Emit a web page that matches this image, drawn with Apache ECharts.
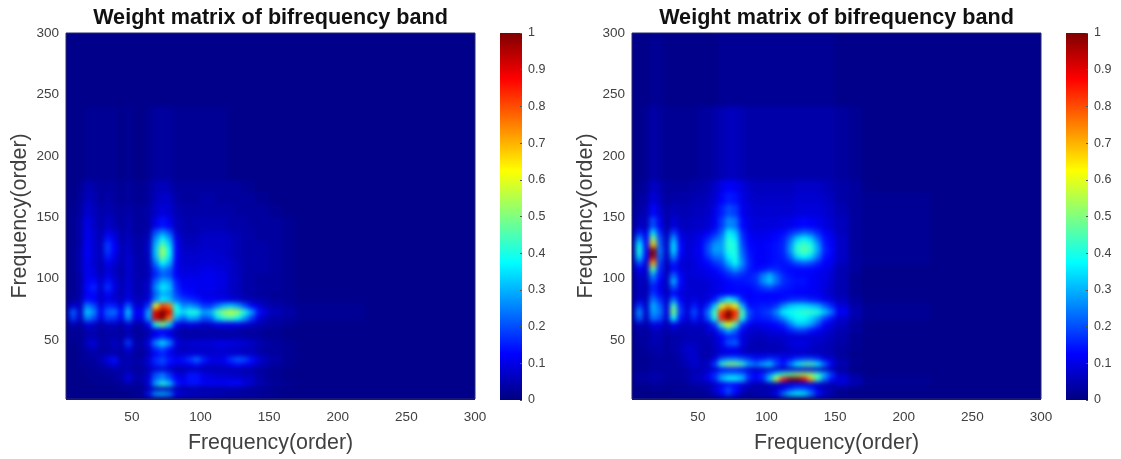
<!DOCTYPE html>
<html><head><meta charset="utf-8">
<style>
html,body{margin:0;padding:0;background:#fff}
#chart{width:1121px;height:459px;background:#fff}
#chart canvas[data-zr-dom-id="zr_0"]{filter:blur(2.5px);clip-path:path('M66 33H475V400H66Z M632 33H1041V400H632Z')}
</style>
<script src="https://cdn.jsdelivr.net/npm/echarts@6/dist/echarts.min.js"></script>
</head><body><div id="chart"></div>
<script>
const titleText = 'Weight matrix of bifrequency band';
const axisName = 'Frequency(order)';
const tickValues = [50,100,150,200,250,300];
const jet = ['#000080','#0000ff','#0080ff','#00ffff','#80ff80','#ffff00','#ff8000','#ff0000','#800000'];
const colEdges = [0,5,10,15,20,25,30,35,40,45,50,55,60,65,70,75,80,85,90,95,100,105,110,115,120,125,130,135,140,145,150,160,170,220,300];
const rowEdges = [300,240,180,170,160,150,140,135,130,125,120,115,110,105,100,95,90,85,80,75,70,65,60,55,50,45,40,36,32,28,24,20,16,12,8,4,0];
// weights in hundredths, rows from the top of the plot down
const leftWeights = [
[1,1,1,1,1,1,1,1,1,1,1,1,1,1,1,1,1,1,1,1,1,1,1,1,1,1,1,1,1,1,1,1,1,1],
[1,1,1,2,2,2,2,2,1,2,1,1,2,3,3,3,2,2,2,2,2,2,2,2,1,1,1,1,1,1,1,1,1,1],
[1,1,2,5,4,3,3,3,2,3,2,2,3,5,6,5,3,3,3,3,3,3,3,3,3,3,2,2,1,1,1,1,1,1],
[1,1,3,6,5,3,4,3,2,3,2,2,3,6,7,7,4,3,3,3,4,4,3,3,3,3,3,3,2,2,1,1,1,1],
[1,2,3,8,6,4,5,4,3,4,3,3,4,7,9,8,5,4,4,4,4,4,4,4,4,3,3,3,3,3,2,1,1,1],
[1,2,4,10,7,4,7,5,3,5,3,3,4,10,14,11,6,5,4,5,5,5,5,5,4,4,4,3,3,3,3,2,1,1],
[1,2,4,11,8,5,10,8,4,6,3,3,5,20,26,20,8,5,5,5,6,6,6,6,5,5,4,4,3,3,3,2,1,1],
[1,2,4,11,8,5,14,10,4,6,4,4,6,26,36,28,10,6,5,6,7,7,7,7,6,5,4,4,3,3,3,2,1,1],
[1,2,4,12,8,6,18,12,5,7,4,4,7,30,46,34,12,6,6,6,7,7,7,7,6,5,4,4,4,4,3,2,1,1],
[1,2,5,12,8,6,18,12,5,7,4,4,7,32,54,38,12,7,7,7,8,8,7,7,6,5,4,4,4,4,3,2,1,1],
[1,2,5,12,8,6,15,10,5,8,5,4,7,30,50,36,12,8,8,8,8,8,8,8,6,5,4,4,4,4,3,2,1,1],
[1,2,5,11,8,5,11,8,5,8,5,4,6,24,38,30,11,8,8,8,9,9,8,8,7,6,4,4,4,4,3,2,1,1],
[1,2,5,11,9,5,9,7,4,8,5,4,6,18,26,22,11,9,9,9,10,10,9,9,7,6,4,4,4,4,3,2,1,1],
[1,2,4,11,10,6,10,7,4,8,5,4,6,16,22,20,12,10,10,10,11,11,10,10,7,6,4,4,3,3,3,2,1,1],
[1,2,4,12,13,7,14,9,5,8,5,5,7,22,30,28,15,11,11,11,11,11,10,10,7,6,4,4,3,3,3,2,1,1],
[1,2,4,13,16,8,17,10,5,9,5,5,8,26,36,32,17,12,12,11,11,11,10,9,7,6,4,4,3,3,3,2,1,1],
[1,2,4,12,13,7,13,8,5,9,5,5,7,22,30,28,19,14,13,11,10,10,9,9,7,6,4,4,3,3,2,2,1,1],
[1,3,5,14,12,7,10,8,6,11,6,6,10,26,36,32,23,19,17,15,12,11,11,10,9,8,6,5,4,4,3,2,1,1],
[2,9,6,25,20,9,16,15,9,22,9,8,18,60,82,76,38,26,28,24,18,18,24,30,32,28,20,13,9,6,4,3,2,1],
[3,22,7,32,26,12,22,24,12,32,12,12,30,90,100,90,40,34,40,40,28,30,44,52,56,52,40,28,14,9,6,4,2,1],
[3,18,6,25,20,9,18,17,10,26,10,10,28,92,100,76,30,22,30,28,20,22,34,42,44,38,28,18,9,6,4,3,2,1],
[1,5,3,8,7,4,6,6,4,8,4,4,12,40,50,34,12,8,10,9,7,8,10,11,11,10,8,7,5,4,3,2,1,1],
[1,3,2,5,5,3,4,4,3,5,3,3,5,10,12,9,5,4,4,4,4,4,4,4,4,4,3,3,3,2,2,1,1,1],
[1,2,2,4,5,3,4,4,3,7,3,3,6,12,16,12,6,4,4,4,4,4,4,4,4,4,4,3,3,2,2,1,1,1],
[1,2,2,7,9,4,4,7,4,18,5,4,10,26,34,26,10,7,8,9,9,9,10,10,10,9,8,7,5,4,3,2,1,1],
[1,1,2,4,6,3,3,5,4,9,4,3,7,16,20,14,7,6,7,7,7,7,8,8,7,7,6,6,4,3,3,2,1,1],
[1,1,2,3,4,4,5,5,3,5,3,3,6,12,15,11,8,8,9,9,8,8,8,8,8,8,7,7,5,4,3,2,1,1],
[1,1,2,3,3,5,10,14,5,5,4,4,9,17,20,15,12,14,18,24,16,11,10,12,18,22,20,14,9,6,4,2,1,1],
[1,1,2,2,3,4,7,10,5,5,4,4,8,15,18,13,10,10,12,14,10,8,8,9,12,14,12,10,7,5,3,2,1,1],
[1,1,1,2,2,3,3,4,4,4,3,3,5,8,8,6,4,4,5,5,5,5,5,5,5,5,4,4,3,3,2,1,1,1],
[1,1,1,2,2,2,3,3,4,8,4,4,8,20,24,17,10,9,14,14,10,9,8,8,7,7,6,6,4,3,2,1,1,1],
[1,1,1,1,2,2,2,3,4,10,4,4,8,22,26,20,12,10,14,14,10,9,9,9,9,9,7,7,4,3,2,1,1,1],
[1,1,1,1,1,2,2,2,3,4,3,3,10,30,42,34,16,12,14,14,12,12,12,12,13,13,10,8,5,4,3,2,1,1],
[1,1,1,1,1,1,1,1,2,2,2,2,4,5,5,5,4,3,3,3,3,3,3,3,3,3,2,2,2,2,1,1,1,1],
[1,1,1,1,1,1,1,1,1,1,2,3,14,28,30,26,12,9,8,8,7,7,6,6,5,5,4,4,3,3,2,1,1,1],
[1,1,1,1,1,1,1,1,1,1,1,1,1,2,2,2,1,1,1,1,1,1,1,1,1,1,1,1,1,1,1,1,1,1]
];
const rightWeights = [
[1,1,1,2,2,1,1,1,1,1,1,1,1,2,2,2,2,2,2,2,2,2,2,2,2,2,2,2,2,2,1,1,1,1],
[1,1,2,4,3,2,2,2,2,2,3,3,4,5,6,6,5,4,4,4,4,4,4,4,4,4,4,4,4,4,3,2,1,1],
[1,2,3,7,5,3,3,3,3,4,4,5,7,10,12,11,9,7,6,6,6,6,6,6,7,7,7,7,6,5,4,3,1,1],
[1,3,4,9,6,3,4,4,4,5,5,6,8,12,15,14,10,8,7,7,7,7,7,7,8,8,8,8,7,6,4,3,2,1],
[2,4,5,13,8,4,6,5,5,6,6,7,10,15,20,18,11,9,8,8,8,8,8,8,9,9,9,9,8,7,5,3,2,1],
[2,6,6,20,11,4,9,6,6,7,7,8,11,18,26,24,13,10,9,9,9,9,10,10,12,13,12,11,9,8,6,3,2,1],
[2,15,9,34,16,5,18,9,7,8,9,11,15,22,36,32,16,11,10,10,11,12,13,16,19,22,20,16,12,10,6,3,2,1],
[3,26,12,50,20,6,28,11,8,9,11,15,21,26,40,36,18,12,11,11,12,13,15,22,32,36,32,22,14,11,7,3,2,1],
[3,36,13,68,22,7,34,13,8,9,12,19,27,28,42,40,20,13,12,12,13,14,16,26,40,44,40,28,15,12,7,3,2,1],
[3,40,14,100,24,7,34,13,8,10,12,20,28,28,40,40,22,14,12,12,13,14,16,27,42,46,42,29,16,13,7,3,2,1],
[3,34,12,96,22,6,26,11,8,10,11,17,23,24,36,40,24,15,12,12,13,14,15,22,34,38,34,24,14,12,7,3,2,1],
[3,20,9,72,18,6,16,9,8,9,11,13,17,20,30,38,26,16,12,12,13,14,14,16,20,22,20,16,12,11,6,3,2,1],
[2,12,7,46,16,5,13,9,8,9,10,11,13,16,22,28,22,15,13,14,16,16,14,13,13,13,13,12,11,9,5,3,1,1],
[2,8,6,28,14,6,22,12,8,9,9,10,11,13,16,18,16,15,17,24,30,22,16,14,13,13,12,11,10,8,5,2,1,1],
[2,7,5,20,12,6,30,13,8,8,8,9,10,11,13,14,14,15,17,26,32,24,17,15,14,14,12,11,10,8,5,2,1,1],
[2,6,5,15,10,6,20,11,8,8,8,8,10,11,12,13,13,13,15,18,20,17,15,14,13,13,12,11,9,7,5,2,1,1],
[2,6,5,18,12,6,13,9,8,8,8,9,10,11,13,13,13,12,13,13,13,13,13,13,12,12,11,11,9,7,5,2,1,1],
[2,8,6,24,17,7,24,12,8,10,8,9,15,28,40,32,16,12,13,13,13,13,14,16,17,17,15,14,11,9,6,3,1,1],
[3,18,7,30,22,9,44,16,8,15,9,16,32,58,72,60,30,14,14,15,15,18,26,32,34,34,32,29,22,16,9,4,2,1],
[3,26,7,28,24,9,50,18,9,20,10,24,45,82,100,84,45,20,15,17,19,26,36,38,40,42,42,40,32,24,12,5,2,1],
[3,22,6,24,20,8,38,14,8,16,9,20,40,85,100,80,40,18,14,15,16,20,26,34,38,38,34,28,19,14,8,4,2,1],
[2,6,4,10,9,5,11,7,6,7,7,9,18,44,62,44,18,11,10,11,12,13,16,24,32,32,28,20,12,9,6,3,1,1],
[1,4,3,6,6,4,6,5,5,6,5,8,10,20,30,22,11,8,7,8,9,10,11,15,18,18,14,11,9,7,5,3,1,1],
[1,3,3,5,5,3,4,4,5,5,5,5,7,12,16,16,9,7,6,6,7,7,7,8,8,8,8,8,7,6,4,2,1,1],
[1,3,3,5,5,3,4,5,6,6,5,5,7,11,20,22,10,6,5,5,6,6,7,9,10,10,8,7,6,5,4,2,1,1],
[1,2,3,4,4,3,4,5,8,7,5,4,6,9,11,11,7,5,5,5,5,5,6,7,8,8,7,6,6,5,3,2,1,1],
[1,2,2,3,4,3,3,5,7,8,5,4,6,9,10,11,10,8,8,8,8,8,8,8,8,8,7,7,5,5,3,1,1,1],
[1,2,2,3,3,3,3,4,6,8,5,5,10,22,26,26,22,18,14,15,18,16,12,14,18,20,20,17,11,8,4,2,1,1],
[1,2,2,3,3,3,3,4,6,8,6,7,18,42,50,50,44,28,24,30,34,20,14,26,38,44,46,38,24,12,5,2,1,1],
[1,2,2,3,3,3,3,3,4,5,5,6,8,12,14,14,12,8,7,7,8,8,7,7,8,8,8,7,6,5,3,1,1,1],
[1,3,3,4,4,3,3,3,4,6,6,10,16,24,26,26,24,16,12,16,24,34,42,46,50,52,50,42,30,18,7,3,1,1],
[1,4,3,5,4,3,3,3,4,6,7,10,16,30,38,38,32,16,12,16,34,60,85,100,100,90,70,44,24,14,9,5,2,1],
[1,2,2,3,3,2,2,2,3,4,4,5,7,10,12,12,9,6,5,5,6,7,8,9,10,10,9,7,6,5,8,5,2,1],
[1,1,1,2,2,2,2,2,2,3,3,4,8,14,20,14,8,5,4,4,5,6,10,16,20,20,16,10,5,4,2,1,1,1],
[1,1,1,1,1,1,1,2,2,2,2,3,6,12,18,12,5,3,5,5,6,12,24,34,38,36,26,14,8,5,2,1,1,1],
[1,1,1,1,1,1,1,1,1,1,1,1,1,1,1,1,1,1,1,1,1,1,1,1,1,1,1,1,1,1,1,1,1,1]
];

function cells(rows){
  const out=[];
  rows.forEach((row,r)=>row.forEach((v,c)=>{
    out.push([colEdges[c],rowEdges[r+1],colEdges[c+1],rowEdges[r],v/100]);
  }));
  return out;
}
function renderCell(params,api){
  const a=api.coord([api.value(0),api.value(3)]);
  const b=api.coord([api.value(2),api.value(1)]);
  return {type:'rect',shape:{x:a[0]-0.3,y:a[1]-0.3,width:b[0]-a[0]+0.6,height:b[1]-a[1]+0.6},
          style:{fill:api.visual('color')}};
}
const barStops = jet.map((color,i)=>({offset:i/(jet.length-1),color}));
function renderBar(params,api){
  const a=api.coord([0,1]), b=api.coord([1,0]);
  return {type:'rect',shape:{x:a[0],y:a[1],width:b[0]-a[0],height:b[1]-a[1]},
          style:{fill:new echarts.graphic.LinearGradient(0,1,0,0,barStops)}};
}
const FONT='"Liberation Sans", Arial, sans-serif';
const plots=[{left:66,bar:500,cx:270.5,rows:leftWeights},{left:632,bar:1066,cx:836.5,rows:rightWeights}];
const grid=[],xAxis=[],yAxis=[],series=[],visualMap=[],title=[];
plots.forEach((p,i)=>{
  grid.push({zlevel:1,left:p.left,top:33,width:409,height:367,show:true,backgroundColor:'transparent',borderColor:'#2a2a70',borderWidth:1});
  xAxis.push({zlevel:1,gridIndex:i,type:'value',min:2,max:300,name:axisName,nameLocation:'middle',nameGap:34,
    nameTextStyle:{fontFamily:FONT,fontSize:21.4,color:'#404040'},
    splitLine:{show:false},axisLine:{show:false},axisTick:{show:false},
    axisLabel:{customValues:tickValues,fontFamily:FONT,fontSize:13.5,color:'#404040',margin:11}});
  yAxis.push({zlevel:1,gridIndex:i,type:'value',min:2,max:300,name:axisName,nameLocation:'middle',nameGap:35,
    nameTextStyle:{fontFamily:FONT,fontSize:21.4,color:'#404040'},
    splitLine:{show:false},axisLine:{show:false},axisTick:{show:false},
    axisLabel:{customValues:tickValues,fontFamily:FONT,fontSize:13.5,color:'#404040',margin:7}});
  series.push({type:'custom',zlevel:0,xAxisIndex:i,yAxisIndex:i,clip:false,silent:true,animation:false,
    coordinateSystem:'cartesian2d',renderItem:renderCell,data:cells(p.rows),encode:{x:[0,2],y:[1,3]}});
  visualMap.push({type:'continuous',show:false,seriesIndex:i,dimension:4,min:0,max:1,inRange:{color:jet}});
  title.push({zlevel:1,text:titleText,left:p.cx,top:7,textAlign:'center',padding:0,
    textStyle:{fontFamily:FONT,fontSize:21.6,fontWeight:'bold',color:'#111'}});
});
plots.forEach((p,i)=>{
  const g=grid.length;
  grid.push({zlevel:1,left:p.bar,top:33,width:22,height:367,show:false});
  xAxis.push({zlevel:1,gridIndex:g,type:'value',min:0,max:1,show:false});
  yAxis.push({zlevel:1,z:5,gridIndex:g,type:'value',position:'right',min:0,max:1,interval:0.1,
    splitLine:{show:false},axisLine:{show:false,onZero:false},
    axisTick:{show:true,inside:true,length:2,lineStyle:{color:'#555'}},
    axisLabel:{fontFamily:FONT,fontSize:12.5,color:'#404040',margin:6,formatter:v=>String(Math.round(v*10)/10)}});
  series.push({type:'custom',zlevel:1,xAxisIndex:g,yAxisIndex:g,silent:true,animation:false,
    coordinateSystem:'cartesian2d',renderItem:renderBar,data:[[0,1]]});
});
const chart=echarts.init(document.getElementById('chart'),null,{renderer:'canvas',width:1121,height:459});
chart.setOption({animation:false,backgroundColor:'#000085',title,grid,xAxis,yAxis,series,visualMap,tooltip:{show:false}});
</script>
</body></html>
